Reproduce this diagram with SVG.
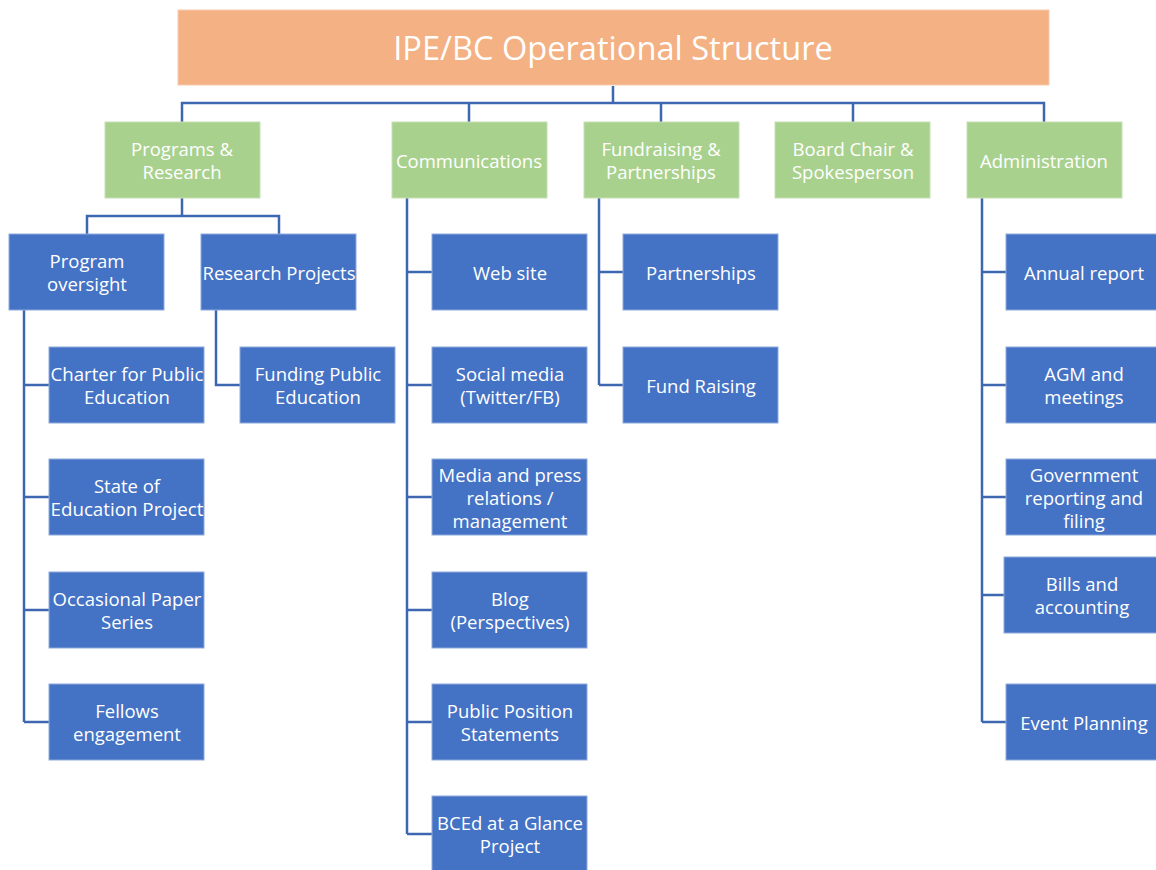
<svg xmlns="http://www.w3.org/2000/svg" width="1156" height="870" viewBox="0 0 1156 870">
<style>
.title{fill:#F4B183;stroke:#F8CBAD;stroke-width:1}
.g{fill:#A9D18E;stroke:#C5E0B4;stroke-width:1}
.b{fill:#4472C4;stroke:#8FAADC;stroke-width:1}
text{font-family:"Open Sans","Liberation Sans",sans-serif;fill:#ffffff;text-anchor:middle;dominant-baseline:central;font-size:18.5px}
.tt{font-size:32.6px}
.conn path{fill:none;stroke:#3E67B1;stroke-width:2.5}
</style>
<rect width="1156" height="870" fill="#ffffff"/>
<g class="conn" id="connectors">
<path d="M613 86V103M182 122V103H1044V122M469 103V122M661 103V122M853 103V122"/>
<path d="M182 198V216M87 234V216H279V234"/>
<path d="M24 310V722M24 385H49M24 497H49M24 610H49M24 722H49"/>
<path d="M216 310V385H240"/>
<path d="M407 198V834M407 272H432M407 385H432M407 497H432M407 610H432M407 722H432M407 834H432"/>
<path d="M599 198V385M599 272H623M599 385H623"/>
<path d="M982 198V722M982 272H1006M982 385H1006M982 497H1006M982 595H1004M982 722H1006"/>
</g>
<g id="title"><rect class="title" x="178" y="10" width="871" height="75"/><text class="tt" x="613" y="47">IPE/BC Operational Structure</text></g>
<g id="programs"><rect class="g" x="105" y="122" width="155" height="76"/><text x="182" y="148">Programs &amp;</text><text x="182" y="171">Research</text></g>
<g id="communications"><rect class="g" x="392" y="122" width="155" height="76"/><text x="469" y="160">Communications</text></g>
<g id="fundraising"><rect class="g" x="584" y="122" width="155" height="76"/><text x="661" y="148">Fundraising &amp;</text><text x="661" y="171">Partnerships</text></g>
<g id="board"><rect class="g" x="775" y="122" width="155" height="76"/><text x="853" y="148">Board Chair &amp;</text><text x="853" y="171">Spokesperson</text></g>
<g id="administration"><rect class="g" x="967" y="122" width="155" height="76"/><text x="1044" y="160">Administration</text></g>
<g id="program-oversight"><rect class="b" x="9" y="234" width="155" height="76"/><text x="87" y="260">Program</text><text x="87" y="283">oversight</text></g>
<g id="research-projects"><rect class="b" x="201" y="234" width="155" height="76"/><text x="279" y="272" textLength="153" lengthAdjust="spacingAndGlyphs">Research Projects</text></g>
<g id="charter"><rect class="b" x="49" y="347" width="155" height="76"/><text x="127" y="373" textLength="153" lengthAdjust="spacingAndGlyphs">Charter for Public</text><text x="127" y="396">Education</text></g>
<g id="state"><rect class="b" x="49" y="459" width="155" height="76"/><text x="127" y="485">State of</text><text x="127" y="508" textLength="153" lengthAdjust="spacingAndGlyphs">Education Project</text></g>
<g id="occasional"><rect class="b" x="49" y="572" width="155" height="76"/><text x="127" y="598">Occasional Paper</text><text x="127" y="621">Series</text></g>
<g id="fellows"><rect class="b" x="49" y="684" width="155" height="76"/><text x="127" y="710">Fellows</text><text x="127" y="733">engagement</text></g>
<g id="funding"><rect class="b" x="240" y="347" width="155" height="76"/><text x="318" y="373">Funding Public</text><text x="318" y="396">Education</text></g>
<g id="web"><rect class="b" x="432" y="234" width="155" height="76"/><text x="510" y="272">Web site</text></g>
<g id="social"><rect class="b" x="432" y="347" width="155" height="76"/><text x="510" y="373">Social media</text><text x="510" y="396">(Twitter/FB)</text></g>
<g id="media"><rect class="b" x="432" y="459" width="155" height="76"/><text x="510" y="474">Media and press</text><text x="510" y="497">relations /</text><text x="510" y="520">management</text></g>
<g id="blog"><rect class="b" x="432" y="572" width="155" height="76"/><text x="510" y="598">Blog</text><text x="510" y="621">(Perspectives)</text></g>
<g id="public"><rect class="b" x="432" y="684" width="155" height="76"/><text x="510" y="710">Public Position</text><text x="510" y="733">Statements</text></g>
<g id="bced"><rect class="b" x="432" y="796" width="155" height="76"/><text x="510" y="822">BCEd at a Glance</text><text x="510" y="845">Project</text></g>
<g id="partnerships"><rect class="b" x="623" y="234" width="155" height="76"/><text x="701" y="272">Partnerships</text></g>
<g id="fund-raising"><rect class="b" x="623" y="347" width="155" height="76"/><text x="701" y="385">Fund Raising</text></g>
<g id="annual"><rect class="b" x="1006" y="234" width="152" height="76"/><text x="1084" y="272">Annual report</text></g>
<g id="agm"><rect class="b" x="1006" y="347" width="152" height="76"/><text x="1084" y="373">AGM and</text><text x="1084" y="396">meetings</text></g>
<g id="government"><rect class="b" x="1006" y="459" width="152" height="76"/><text x="1084" y="474">Government</text><text x="1084" y="497">reporting and</text><text x="1084" y="520">filing</text></g>
<g id="bills"><rect class="b" x="1004" y="557" width="154" height="76"/><text x="1082" y="583">Bills and</text><text x="1082" y="606">accounting</text></g>
<g id="event"><rect class="b" x="1006" y="684" width="152" height="76"/><text x="1084" y="722">Event Planning</text></g>
</svg>
